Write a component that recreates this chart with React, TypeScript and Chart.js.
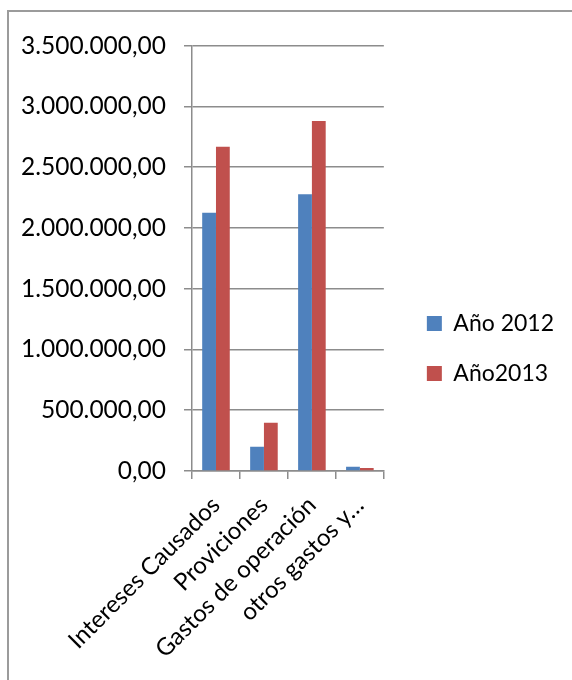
import React, { useEffect, useRef } from "react";
import { Chart, registerables } from "chart.js";

Chart.register(...registerables);

const categories = ["Intereses Causados", "Proviciones", "Gastos de operación", "otros gastos y…"];
const seriesNames = ["Año 2012", "Año2013"];
const year2012 = [2125000, 200000, 2277000, 35000];
const year2013 = [2668000, 398000, 2880000, 24000];
const yMin = 0;
const yMax = 3500000;
const yStep = 500000;

function formatEs(v: number): string {
  const intPart = Math.round(v).toString().replace(/\B(?=(\d{3})+(?!\d))/g, ".");
  return intPart + ",00";
}

const FONT = "Lato";

export default function App() {
  const canvasRef = useRef<HTMLCanvasElement | null>(null);

  useEffect(() => {
    if (!canvasRef.current) return;
    const gridColor = "#8c8c8c";
    const chart = new Chart(canvasRef.current, {
      type: "bar",
      data: {
        labels: categories,
        datasets: [
          {
            label: seriesNames[0],
            data: year2012,
            backgroundColor: "#4F81BD",
            borderWidth: 0,
            categoryPercentage: 0.575,
            barPercentage: 1.0,
          },
          {
            label: seriesNames[1],
            data: year2013,
            backgroundColor: "#C0504D",
            borderWidth: 0,
            categoryPercentage: 0.575,
            barPercentage: 1.0,
          },
        ],
      },
      options: {
        animation: false,
        responsive: true,
        maintainAspectRatio: false,
        layout: { padding: { top: 28, right: 8, bottom: 24, left: 0 } },
        plugins: {
          tooltip: { enabled: false },
          legend: {
            position: "right",
            maxWidth: 220,
            labels: {
              boxWidth: 15,
              boxHeight: 15,
              padding: 27,
              color: "#000",
              font: { family: FONT, size: 23 },
            },
          },
        },
        scales: {
          x: {
            grid: {
              offset: true,
              drawOnChartArea: false,
              drawTicks: true,
              tickLength: 8,
              color: gridColor,
              lineWidth: 1.5,
            },
            border: { display: true, color: gridColor, width: 1.5 },
            ticks: {
              autoSkip: false,
              minRotation: 45,
              maxRotation: 45,
              padding: 12,
              labelOffset: 0,
              color: "#000",
              font: { family: FONT, size: 24 },
            },
            afterFit: (s: any) => {
              s.height = 185;
            },
          },
          y: {
            min: yMin,
            max: yMax,
            ticks: {
              stepSize: yStep,
              padding: 18,
              color: "#000",
              font: { family: FONT, size: 24.5 },
              callback: (v: any) => formatEs(Number(v)),
            },
            grid: {
              color: gridColor,
              lineWidth: 1.5,
              tickLength: 8,
              drawTicks: true,
            },
            border: { display: true, color: gridColor, width: 1.5 },
            afterFit: (s: any) => {
              s.width = 182;
            },
          },
          y2: {
            position: "right",
            display: true,
            grid: { display: false, drawTicks: false },
            border: { display: false },
            ticks: { display: false },
            afterFit: (s: any) => {
              s.width = 16;
            },
          },
        },
      } as any,
    });
    return () => chart.destroy();
  }, []);

  return (
    <div
      style={{
        position: "fixed",
        left: 0,
        top: 0,
        width: 572,
        height: 680,
        overflow: "hidden",
        background: "#fff",
      }}
    >
      <div
        style={{
          position: "absolute",
          left: 7,
          top: 10,
          width: 620,
          height: 720,
          border: "2px solid #9b9b9b",
          boxSizing: "border-box",
        }}
      />
      <div style={{ position: "absolute", left: 10, top: 13, width: 562, height: 667 }}>
        <canvas ref={canvasRef} />
      </div>
    </div>
  );
}
